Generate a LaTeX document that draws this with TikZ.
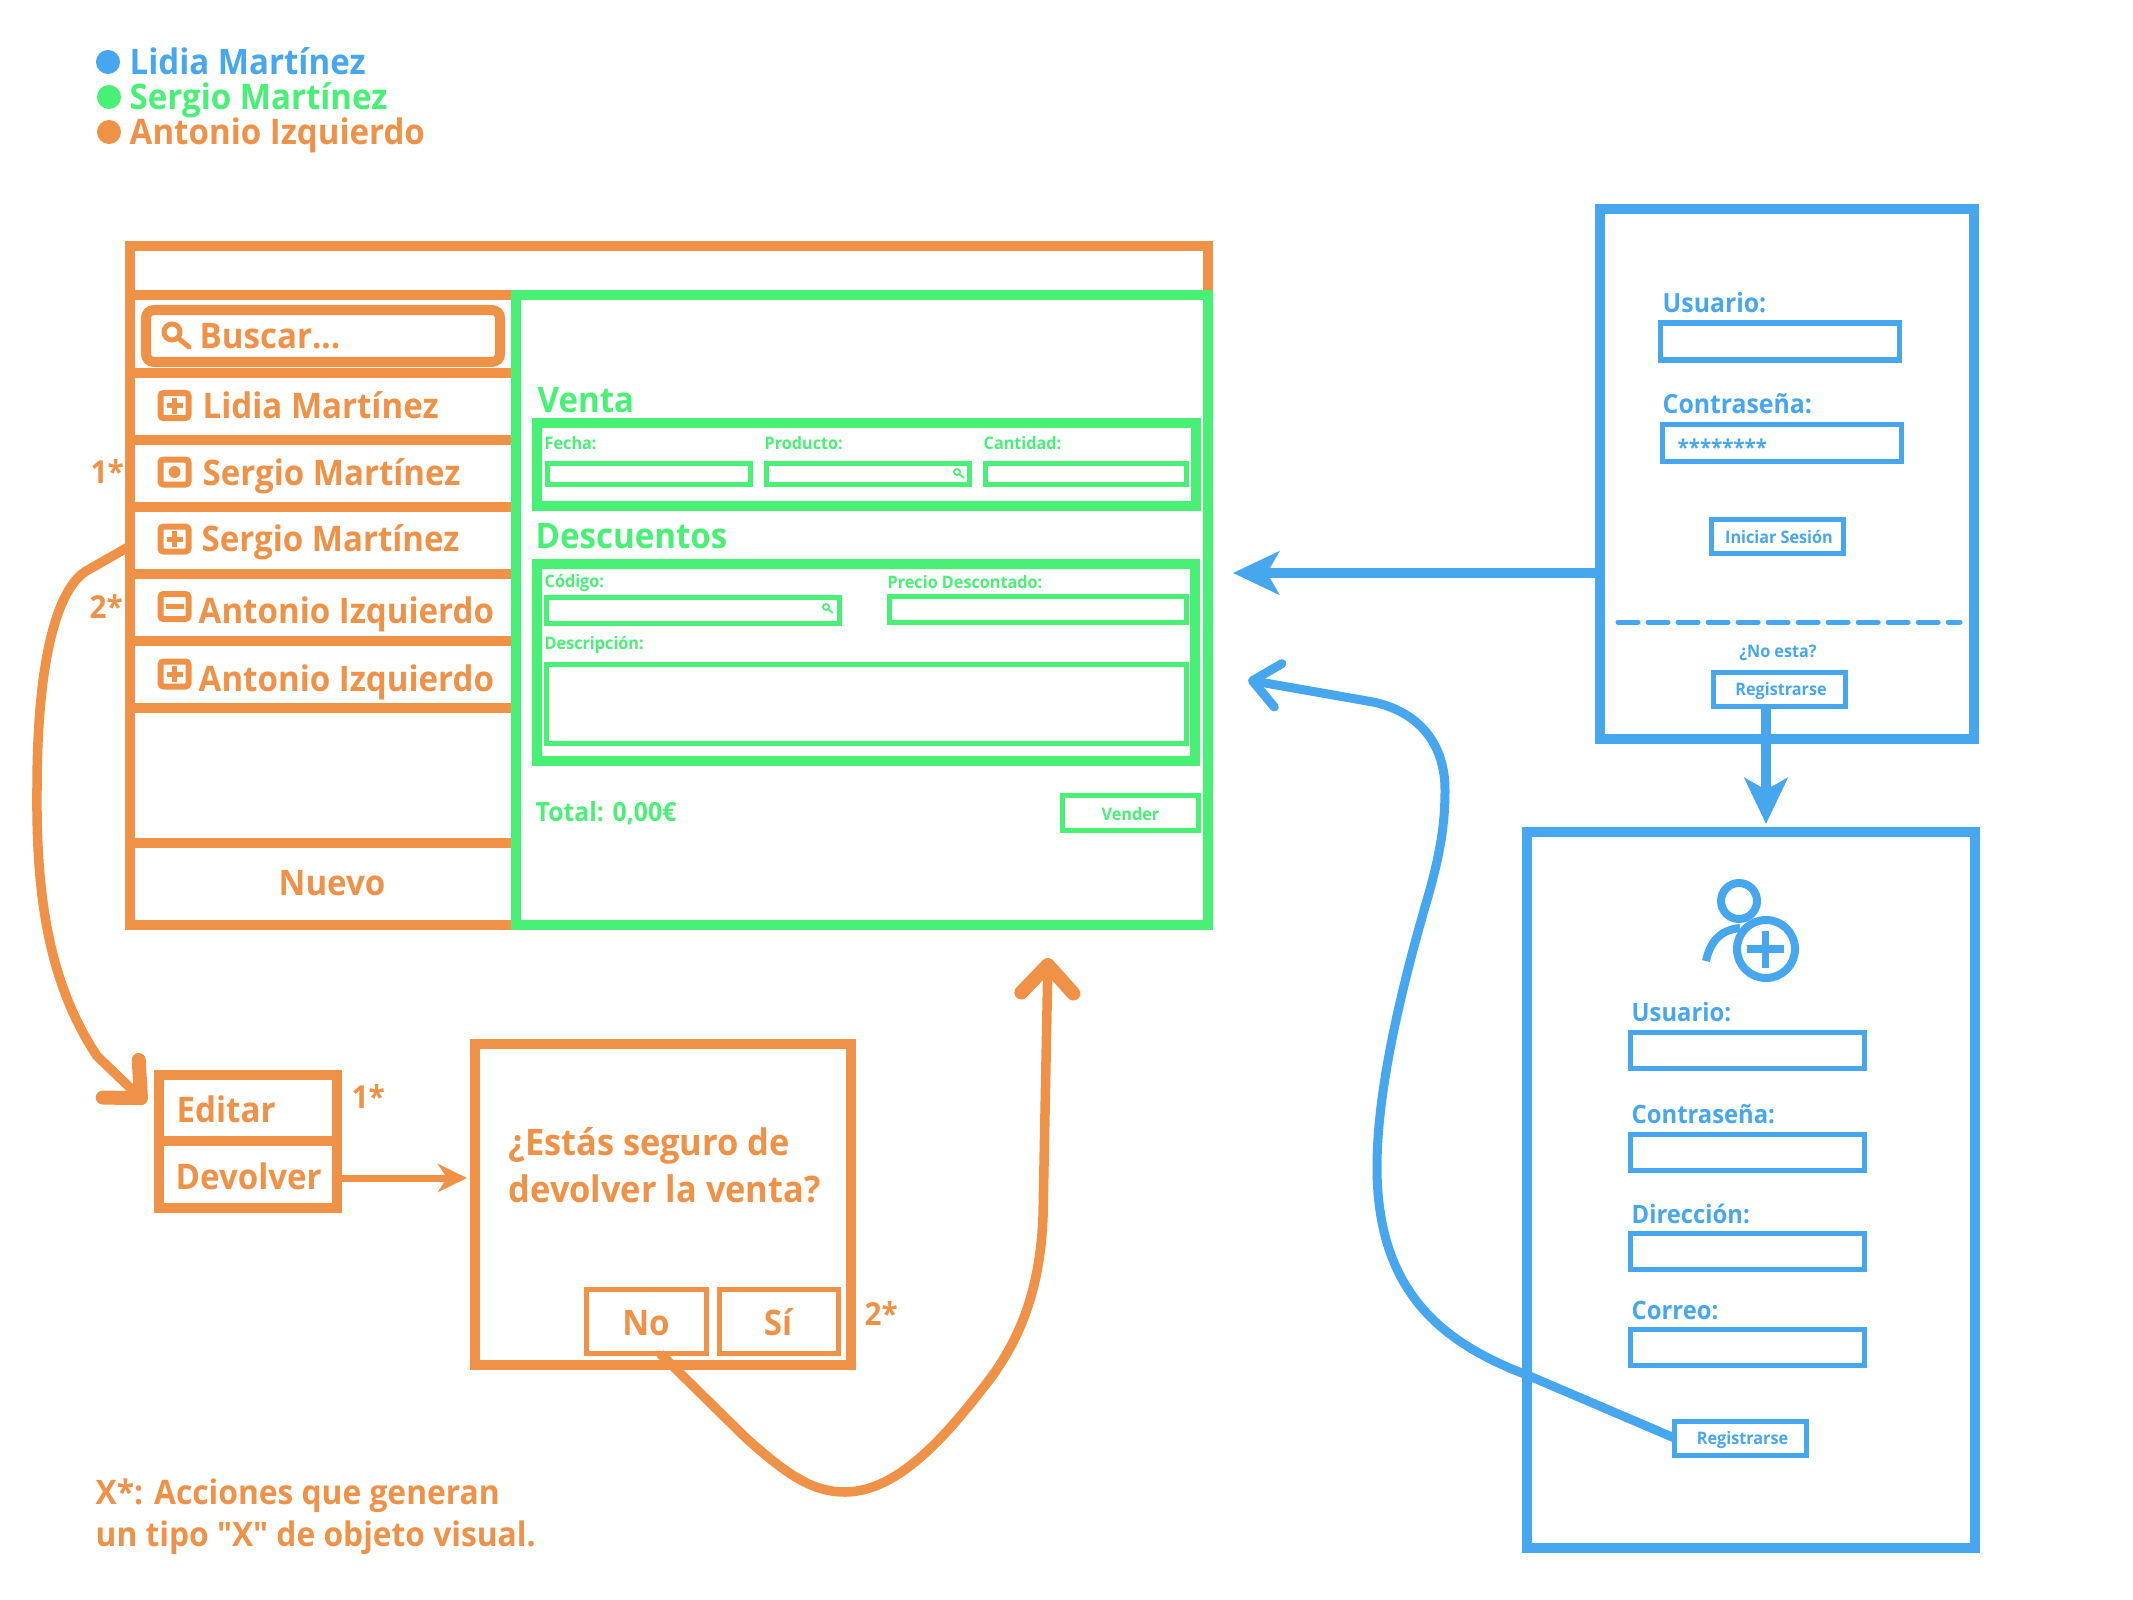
\documentclass[tikz,border=0pt]{standalone}
\usepackage{fontspec}
\setmainfont{Open Sans}[FakeStretch=0.94]
\newfontfamily\plainfont{Open Sans}[FakeStretch=0.94]
\usetikzlibrary{arrows.meta}
\definecolor{myblue}{RGB}{70,167,238}
\definecolor{mygreen}{RGB}{72,241,117}
\definecolor{myorange}{RGB}{239,146,72}
\tikzset{
  sz/.style 2 args={minimum width=#1*0.01cm, minimum height=#2*0.01cm},
  frame/.style={draw, rectangle, inner sep=0pt, outer sep=0pt, line width=0.1cm},
  field/.style={draw, rectangle, inner sep=0pt, outer sep=0pt, line width=0.05cm},
  lbl/.style={anchor=base west, inner sep=0pt, font=\bfseries\fontsize{10}{12}\selectfont},
  lblQ/.style={lbl, font=\bfseries\fontsize{10.4}{12}\selectfont},
  lblN/.style={lbl, font=\bfseries\fontsize{9.6}{12}\selectfont},
  lblT/.style={lbl, font=\bfseries\fontsize{9}{11}\selectfont},
  lblM/.style={lbl, font=\bfseries\fontsize{7.5}{9}\selectfont},
  lblR/.style={lbl, font=\bfseries\fontsize{7.2}{9}\selectfont},
  lblS/.style={lbl, font=\bfseries\fontsize{4.9}{6}\selectfont},
  lblC/.style={anchor=base, inner sep=0pt, font=\bfseries\fontsize{10}{12}\selectfont},
  lblSC/.style={anchor=base, inner sep=0pt, font=\bfseries\fontsize{4.9}{6}\selectfont},
  rule/.style={line width=0.1cm},
  fat/.style={line width=0.1cm, -{Stealth[length=0.46cm, width=0.43cm, inset=0.12cm]}},
  curveO/.style={line width=0.095cm, -{Straight Barb[length=0.28cm, width=0.52cm, line width=0.14cm, round]}},
  curveB/.style={line width=0.09cm, -{Straight Barb[length=0.26cm, width=0.44cm, round]}},
  dot/.style={circle, fill, inner sep=0pt, minimum size=0.24cm},
  pics/plusbox/.style={code={
    \draw[line width=0.06cm, rounded corners=0.03cm] (-14,-12.5) rectangle (14,12.5);
    \draw[line width=0.05cm] (-8,0) -- (8,0) (0,-8) -- (0,8);}},
  pics/minusbox/.style={code={
    \draw[line width=0.06cm, rounded corners=0.03cm] (-14,-12.5) rectangle (14,12.5);
    \draw[line width=0.05cm] (-9,0) -- (9,0);}},
  pics/dotbox/.style={code={
    \draw[line width=0.06cm, rounded corners=0.03cm] (-14,-12.5) rectangle (14,12.5);
    \fill (0,0) circle (6);}},
  pics/lens/.style={code={
    \draw[line width=#1] (0,0) circle (8);
    \draw[line width=#1, line cap=round] (6,6) -- (17,15);}}
}
\begin{document}
\begin{tikzpicture}[x=0.01cm, y=-0.01cm]
\path[use as bounding box, fill=white] (0,0) rectangle (2133,1600);

% legend
\node[dot, myblue] (dotL) at (108,62) {};
\node[dot, mygreen] (dotS) at (109,97) {};
\node[dot, myorange] (dotA) at (109,132) {};
\node[lbl, text=myblue] (keyL) at (129,75) {Lidia Martínez};
\node[lbl, text=mygreen] (keyS) at (129,110) {Sergio Martínez};
\node[lbl, text=myorange] (keyA) at (129,145) {Antonio Izquierdo};

% main window, list side
\begin{scope}[myorange]
\node[frame, sz={1078}{679}] (mainwin) at (669,585.5) {};
\foreach \yy in {295,373,440,507,574,641,708,843}
  \draw[rule] (130,\yy) -- (516,\yy);
\node[frame, sz={354}{52}, rounded corners=0.08cm] (search) at (323,336) {};
\pic at (172,332) {lens=0.05cm};
\node[lbl, text=myorange] (searchT) at (199,348) {Buscar...};
\pic at (174.5,405.5) {plusbox};
\node[lbl, text=myorange] (rowA) at (202,418) {Lidia Martínez};
\pic at (174.5,472) {dotbox};
\node[lbl, text=myorange] (rowB) at (202,485) {Sergio Martínez};
\pic at (174.5,539) {plusbox};
\node[lbl, text=myorange] (rowC) at (201,551) {Sergio Martínez};
\pic at (174.5,606.5) {minusbox};
\node[lbl, text=myorange] (rowD) at (198,623) {Antonio Izquierdo};
\pic at (174.5,674) {plusbox};
\node[lbl, text=myorange] (rowE) at (198,691) {Antonio Izquierdo};
\node[lblC, text=myorange] (nuevo) at (332,895) {Nuevo};
\node[lblT, text=myorange] (starA) at (90,483) {1*};
\node[lblT, text=myorange] (starB) at (89,618) {2*};
\end{scope}

% main window, sale side
\node[frame, mygreen, sz={692}{630}] (salewin) at (862,610) {};
\node[lbl, text=mygreen] (venta) at (537,412) {Venta};
\node[frame, mygreen, sz={659}{83}] (ventabox) at (866.5,464.5) {};
\node[lblS, text=mygreen] (fecha) at (544,449) {Fecha:};
\node[lblS, text=mygreen] (producto) at (764,449) {Producto:};
\node[lblS, text=mygreen] (cantidad) at (983,449) {Cantidad:};
\node[field, mygreen, sz={203}{21}] (fechaF) at (648.5,474) {};
\node[field, mygreen, sz={203}{21}] (productoF) at (868,474) {};
\node[field, mygreen, sz={201}{21}] (cantidadF) at (1086,474) {};
\pic[mygreen, scale=0.38] at (957,472) {lens=0.018cm};
\node[lbl, text=mygreen] (descuentos) at (535,548) {Descuentos};
\node[frame, mygreen, sz={658}{197}] (descbox) at (866,662.5) {};
\node[lblS, text=mygreen] (codigo) at (544,587) {Código:};
\node[lblS, text=mygreen] (precio) at (887,588) {Precio Descontado:};
\node[field, mygreen, sz={293}{26}] (codigoF) at (692.5,610.5) {};
\node[field, mygreen, sz={297}{26}] (precioF) at (1037.5,609.5) {};
\pic[mygreen, scale=0.38] at (826,607) {lens=0.018cm};
\node[lblS, text=mygreen] (descr) at (544,649) {Descripción:};
\node[field, mygreen, sz={640}{79}] (descrF) at (866,703.5) {};
\node[lblM, text=mygreen] (total) at (535,821) {Total: 0,00€};
\node[field, mygreen, sz={136}{35}] (vender) at (1130.5,812.5) {};
\node[lblSC, text=mygreen] (venderT) at (1130.5,820) {Vender};

% context menu and dialog
\node[frame, myorange, sz={178}{66}, anchor=north west] (editar) at (159,1075) {};
\node[frame, myorange, sz={178}{67}, anchor=north west] (devolver) at (159,1141) {};
\node[lbl, text=myorange] (editarT) at (176,1122) {Editar};
\node[lbl, text=myorange] (devolverT) at (175,1189) {Devolver};
\node[lblT, text=myorange] (starC) at (351,1108) {1*};
\node[frame, myorange, sz={376}{321}] (dialog) at (663,1204.5) {};
\node[lblQ, text=myorange] (preguntaA) at (508,1155) {¿Estás seguro de};
\node[lblQ, text=myorange] (preguntaB) at (508,1202) {devolver la venta?};
\node[field, myorange, sz={120}{64}] (no) at (646,1321.5) {};
\node[field, myorange, sz={119}{64}] (si) at (778.5,1321.5) {};
\node[lblC, text=myorange] (noT) at (646,1335) {No};
\node[lblC, text=myorange] (siT) at (778,1335) {Sí};
\node[lblT, text=myorange] (starD) at (864,1325) {2*};
\node[lblN, text=myorange] (notaA) at (95,1504) {X*: Acciones que generan};
\node[lblN, text=myorange] (notaB) at (95,1546) {un tipo {\plainfont"X"} de objeto visual.};

% login panel
\node[frame, myblue, sz={374}{530}] (login) at (1787,474) {};
\node[lblM, text=myblue] (userA) at (1662,312) {Usuario:};
\node[field, myblue, sz={239}{37}] (userAF) at (1779.5,341.5) {};
\node[lblM, text=myblue] (passA) at (1662,413) {Contraseña:};
\node[field, myblue, sz={239}{37}] (passAF) at (1781.5,442.5) {};
\node[lblS, text=myblue, font=\bfseries\fontsize{6.2}{8}\selectfont] (stars) at (1677,455) {********};
\node[field, myblue, sz={132}{34}] (iniciar) at (1777.5,536) {};
\node[lblSC, text=myblue] (iniciarT) at (1779,543) {Iniciar Sesión};
\draw[myblue, line width=0.05cm, line cap=round, dash pattern=on 0.2cm off 0.1cm] (1618,622) -- (1960,622);
\node[lblSC, text=myblue] (noesta) at (1778,657) {¿No esta?};
\node[field, myblue, sz={132}{34}] (regA) at (1779.7,689.5) {};
\node[lblSC, text=myblue] (regAT) at (1781,695) {Registrarse};

% sign up panel
\node[frame, myblue, sz={448}{716}] (signup) at (1751,1190) {};
\begin{scope}[myblue]
\draw[line width=0.08cm] (1739,901) circle (18);
\draw[line width=0.08cm] (1766,949) circle (29);
\draw[line width=0.075cm] (1747,949) -- (1784,949) (1765.5,931) -- (1765.5,968);
\draw[line width=0.08cm] (1706,961) .. controls (1710,942) and (1720,930) .. (1740,928);
\end{scope}
\node[lblR, text=myblue] (userB) at (1631,1021) {Usuario:};
\node[field, myblue, sz={234}{36}] (userBF) at (1747.5,1050) {};
\node[lblR, text=myblue] (passB) at (1631,1123) {Contraseña:};
\node[field, myblue, sz={234}{36}] (passBF) at (1747.5,1152) {};
\node[lblR, text=myblue] (dirB) at (1631,1223) {Dirección:};
\node[field, myblue, sz={234}{36}] (dirBF) at (1747.5,1251) {};
\node[lblR, text=myblue] (mailB) at (1631,1319) {Correo:};
\node[field, myblue, sz={234}{36}] (mailBF) at (1747.5,1347) {};
\node[field, myblue, sz={132}{34}] (regB) at (1740.5,1438) {};
\node[lblSC, text=myblue] (regBT) at (1742.5,1444) {Registrarse};

% connectors
\coordinate (menuIn) at (146,1103);
\coordinate (noTip) at (1048,958);
\coordinate (mainR) at (1233,573);
\coordinate (signIn) at (1766,824);
\coordinate (saleIn) at (1248,680);
\draw[myorange, curveO] (mainwin.west |- 0,546) -- (88,570) .. controls (60,585) and (37,650) .. (37,790) .. controls (36,900) and (50,985) .. (97,1056) -- (menuIn);
\draw[myorange, line width=0.07cm, -{Stealth[length=0.29cm, width=0.28cm, inset=0.09cm]}] (devolver.east |- 0,1178) -- (467,1178);
\draw[myorange, curveO] ([xshift=0.14cm]no.south) -- (745,1437) .. controls (790,1478) and (815,1492) .. (845,1492) .. controls (900,1492) and (950,1430) .. (983,1388) .. controls (1020,1342) and (1040,1290) .. (1043,1217) -- (noTip);
\draw[myblue, fat] (login.west |- mainR) -- (mainR);
\draw[myblue, fat] (regA.south -| signIn) -- (signIn);
\draw[myblue, curveB] (regB.west) -- (1527,1375) .. controls (1440,1342) and (1377,1290) .. (1377,1167) .. controls (1377,1100) and (1395,1010) .. (1427,900) .. controls (1440,855) and (1445,825) .. (1445,790) .. controls (1445,745) and (1420,712) .. (1373,702) -- (saleIn);
\end{tikzpicture}
\end{document}
